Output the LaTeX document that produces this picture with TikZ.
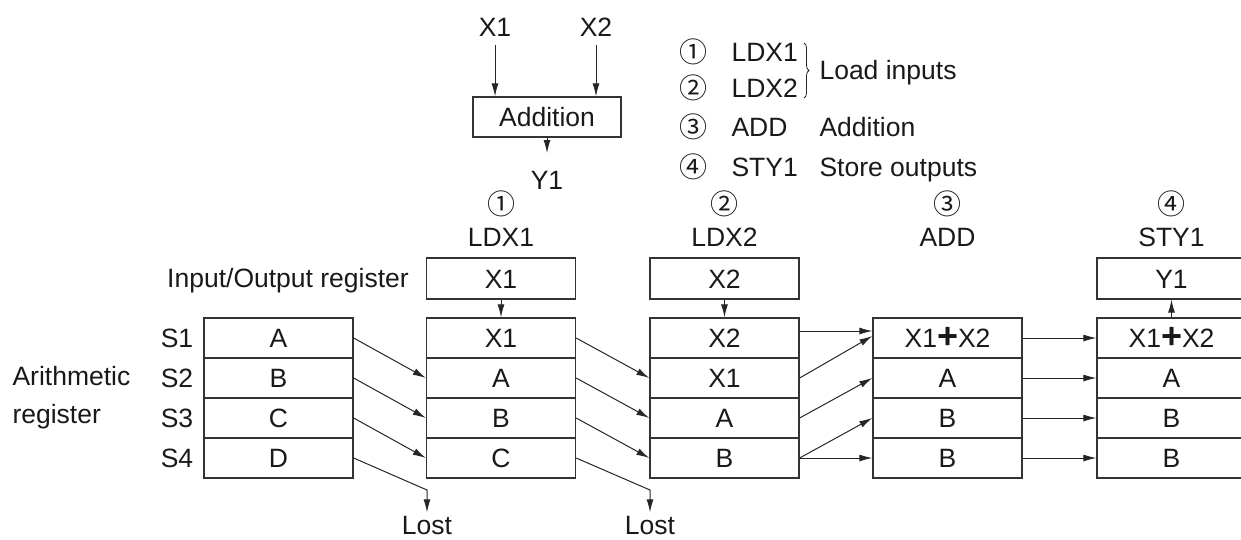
\documentclass[tikz,border=0pt]{standalone}
\usepackage{fontspec}
\setmainfont{Liberation Sans}
\newfontfamily\circfont{Noto Sans CJK JP}
\usetikzlibrary{arrows.meta,decorations.pathreplacing}
\newcommand\plusx{X1{\fontsize{36}{30}\selectfont\bfseries\raisebox{-1pt}{+}}X2}
\begin{document}
\begin{tikzpicture}[x=1pt,y=-1pt,
  every node/.style={font=\fontsize{26.5}{30}\selectfont, text=black!90, text height=19pt, text depth=0pt},
  cell/.style={draw=black!80, line width=1.3pt, minimum width=149pt, minimum height=40pt, inner sep=0pt},
  arr/.style={draw=black!85, line width=1pt, -{Latex[length=13pt,width=7pt]}},
  circ/.style={font=\circfont\fontsize{28}{30}\selectfont, text height=, text depth=},
]
\clip (0,0) rectangle (1241,539);
% top diagram
\node (tx1) at (495,27) {X1};
\node (tx2) at (596,27) {X2};
\node[cell, minimum width=148pt] (add) at (547,117) {Addition};
\coordinate (ya) at (547,153);
\node (ty1) at (547,180) {Y1};
\draw[arr, shorten <=5pt] (tx1.south) -- (tx1.south |- add.north);
\draw[arr, shorten <=5pt] (tx2.south) -- (tx2.south |- add.north);
\draw[arr] (add.south) -- (ya);
% legend
\node[circ] (g1) at (693,52) {①};
\node[circ] (g2) at (693,88) {②};
\node[circ] (g3) at (693,127) {③};
\node[circ] (g4) at (693,167) {④};
\node[anchor=west] (g1t) at (728,52) {LDX1};
\node[anchor=west] (g2t) at (728,88) {LDX2};
\node[anchor=west] (g3t) at (728,127) {ADD};
\node[anchor=west] (g4t) at (728,167) {STY1};
\draw[decorate, decoration={brace, amplitude=5pt}, line width=0.8pt, black!85] (804,43) -- (804,98);
\node[anchor=west] (li) at (816,70) {Load inputs};
\node[anchor=west] (la) at (816,127) {Addition};
\node[anchor=west] (ls) at (816,167) {Store outputs};
% column headers
\node[circ] (h1) at (501,204) {①};
\node[circ] (h2) at (724.5,204) {②};
\node[circ] (h3) at (947.5,204) {③};
\node[circ] (h4) at (1171.5,204) {④};
\node (hl1) at (501,237) {LDX1};
\node (hl2) at (724.5,237) {LDX2};
\node (hl3) at (947.5,237) {ADD};
\node (hl4) at (1171.5,237) {STY1};
% left labels
\node (iol) at (288,278) {Input/Output register};
\node[anchor=west] (ar1) at (9,376) {Arithmetic};
\node[anchor=west] (ar2) at (9,414) {register};
\foreach \r in {1,...,4} \node (s\r) at (177,298+40*\r) {S\r};
% I/O registers
\node[cell, minimum height=41pt] (io1) at (501,278.5) {X1};
\node[cell, minimum height=41pt] (io2) at (724.5,278.5) {X2};
\node[cell, minimum height=41pt] (io4) at (1171.5,278.5) {Y1};
% arithmetic registers
\foreach \t [count=\r] in {A,B,C,D} \node[cell] (c0r\r) at (278.5,298+40*\r) {\t};
\foreach \t [count=\r] in {X1,A,B,C} \node[cell] (c1r\r) at (501,298+40*\r) {\t};
\foreach \t [count=\r] in {X2,X1,A,B} \node[cell] (c2r\r) at (724.5,298+40*\r) {\t};
\foreach \t [count=\r] in {\plusx,A,B,B} \node[cell] (c3r\r) at (947.5,298+40*\r) {\t};
\foreach \t [count=\r] in {\plusx,A,B,B} \node[cell] (c4r\r) at (1171.5,298+40*\r) {\t};
% I/O arrows
\draw[arr] (io1) -- (c1r1);
\draw[arr] (io2) -- (c2r1);
\draw[arr] (c4r1) -- (io4);
% shifts
\draw[arr] (c0r1.east) -- (c1r2.west);
\draw[arr] (c0r2.east) -- (c1r3.west);
\draw[arr] (c0r3.east) -- (c1r4.west);
\draw[arr] (c1r1.east) -- (c2r2.west);
\draw[arr] (c1r2.east) -- (c2r3.west);
\draw[arr] (c1r3.east) -- (c2r4.west);
% lost
\node[inner sep=1pt] (lost1) at (427,525) {Lost};
\node[inner sep=1pt] (lost2) at (650,525) {Lost};
\coordinate (k1) at (427,490);
\coordinate (k2) at (650,490);
\draw[arr] (c0r4.east) -- (k1) -- ([yshift=2pt]lost1.north);
\draw[arr] (c1r4.east) -- (k2) -- ([yshift=2pt]lost2.north);
% add step
\draw[arr] ([yshift=7pt]c2r1.east) -- ([yshift=7pt]c3r1.west);
\draw[arr] (c2r2.east) -- ([yshift=2pt]c3r1.west);
\draw[arr] (c2r3.east) -- (c3r2.west);
\draw[arr] (c2r4.east) -- (c3r3.west);
\draw[arr] (c2r4.east) -- (c3r4.west);
% store step
\foreach \r in {1,...,4} \draw[arr] (c3r\r.east) -- (c4r\r.west);
\end{tikzpicture}
\end{document}
